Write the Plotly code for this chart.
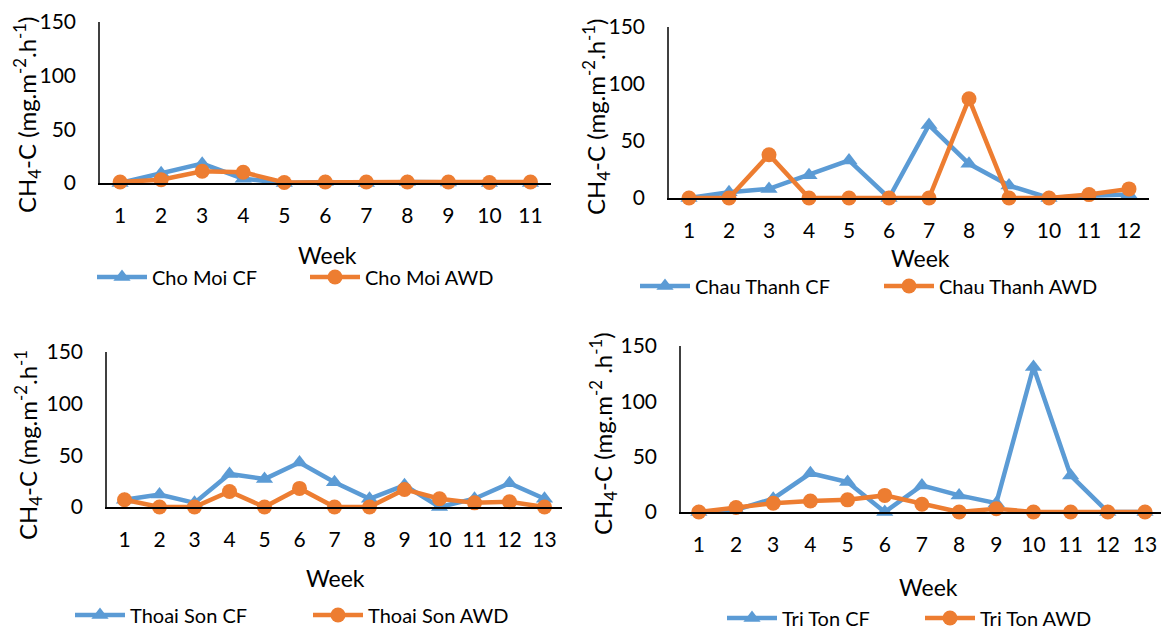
import plotly.graph_objects as go

# ---------------- data ----------------
weeks_cho = list(range(1, 12))
cho_moi_cf = [0, 9, 18, 4, 0, 1, 0, 1, 0.5, 0, 0]
cho_moi_awd = [1, 3, 11, 10, 0.5, 1, 1, 1, 1, 0.5, 1]

weeks_chau = list(range(1, 13))
chau_thanh_cf = [0, 5, 8, 20, 33, 0, 64, 30, 11, 0, 2, 3]
chau_thanh_awd = [0, 0, 38, 0, 0, 0, 0, 87, 0, 0, 3, 8]

weeks_thoai = list(range(1, 14))
thoai_son_cf = [7, 12, 4, 32, 27, 43, 24, 8, 21, 0, 8, 23, 8]
thoai_son_awd = [7, 0, 0, 15, 0, 18, 0, 0, 17, 8, 4, 5, 0]

weeks_tri = list(range(1, 14))
tri_ton_cf = [0, 2, 12, 35, 27, 0, 24, 15, 8, 131, 33, 0, 0]
tri_ton_awd = [0, 4, 8, 10, 11, 15, 7, 0, 3, 0, 0, 0, 0]

y_ticks = [0, 50, 100, 150]

BLUE = "#5B9BD5"
ORANGE = "#ED7D31"
FONT = "Lato"
W, H = 1161, 630

fig = go.Figure()

panels = [
    dict(weeks=weeks_cho, cf=cho_moi_cf, awd=cho_moi_awd, name="Cho Moi",
         px_x=(100, 551), px_y=(22, 183), xr=(0.51, 11.5),
         ytitle="CH<sub>4</sub>-C (mg.m<sup>-2</sup>.h<sup>-1</sup>)",
         ytitle_x=27, ytitle_y=115, week_xy=(327, 255),
         leg=(97, 277), entry=213),
    dict(weeks=weeks_chau, cf=chau_thanh_cf, awd=chau_thanh_awd, name="Chau Thanh",
         px_x=(669, 1149), px_y=(27, 198), xr=(0.5, 12.5),
         ytitle="CH<sub>4</sub>-C (mg.m<sup>-2</sup>.h<sup>-1</sup>)",
         ytitle_x=596, ytitle_y=117, week_xy=(920, 258),
         leg=(640, 286), entry=244),
    dict(weeks=weeks_thoai, cf=thoai_son_cf, awd=thoai_son_awd, name="Thoai Son",
         px_x=(107, 562), px_y=(352, 507), xr=(0.5, 13.5),
         ytitle="CH<sub>4</sub>-C (mg.m<sup>-2</sup>.h<sup>-1</sup>",
         ytitle_x=28, ytitle_y=445, week_xy=(335, 578),
         leg=(75, 615), entry=238),
    dict(weeks=weeks_tri, cf=tri_ton_cf, awd=tri_ton_awd, name="Tri Ton",
         px_x=(681, 1161), px_y=(346, 512), xr=(0.52, 13.43),
         ytitle="CH<sub>4</sub>-C (mg.m<sup>-2</sup> .h<sup>-1</sup>)",
         ytitle_x=603, ytitle_y=434, week_xy=(928, 587),
         leg=(727, 618), entry=198),
]

annotations = []
layout_extra = {}
for i, p in enumerate(panels, start=1):
    xa = "x" if i == 1 else f"x{i}"
    ya = "y" if i == 1 else f"y{i}"
    lg = "legend" if i == 1 else f"legend{i}"
    for label, vals, color, sym in [("CF", p["cf"], BLUE, "triangle-up"),
                                    ("AWD", p["awd"], ORANGE, "circle")]:
        fig.add_trace(go.Scatter(
            x=p["weeks"], y=vals, mode="lines+markers",
            name=f"{p['name']} {label}",
            line=dict(color=color, width=4.5),
            marker=dict(color=color, symbol=sym, size=15),
            xaxis=xa, yaxis=ya, legend=lg, cliponaxis=False,
        ))
    x0, x1 = p["px_x"]
    ytop, ybot = p["px_y"]
    layout_extra[("xaxis" if i == 1 else f"xaxis{i}")] = dict(
        domain=[x0 / W, min(x1 / W, 1.0)], anchor=ya, range=list(p["xr"]),
        tickmode="array", tickvals=p["weeks"], ticktext=[str(w) for w in p["weeks"]],
        showline=True, linecolor="black", linewidth=2, showgrid=False, zeroline=False,
        ticks="", ticklabelstandoff=13,
        tickfont=dict(family=FONT, size=21, color="black"),
    )
    layout_extra[("yaxis" if i == 1 else f"yaxis{i}")] = dict(
        domain=[1 - ybot / H, 1 - ytop / H], anchor=xa, range=[0, 150],
        tickmode="array", tickvals=y_ticks,
        showline=True, linecolor="#404040", linewidth=1.5, showgrid=False, zeroline=False,
        ticks="", ticklabelstandoff=18,
        tickfont=dict(family=FONT, size=21, color="black"),
    )
    annotations.append(dict(
        text=p["ytitle"], textangle=-90, xref="paper", yref="paper",
        x=p["ytitle_x"] / W, y=1 - p["ytitle_y"] / H, showarrow=False,
        xanchor="center", yanchor="middle",
        font=dict(family=FONT, size=24, color="black"),
    ))
    annotations.append(dict(
        text="Week", xref="paper", yref="paper",
        x=p["week_xy"][0] / W, y=1 - p["week_xy"][1] / H, showarrow=False,
        xanchor="center", yanchor="middle",
        font=dict(family=FONT, size=23, color="black"),
    ))
    layout_extra[lg] = dict(
        orientation="h", x=(p["leg"][0] - 5) / W, y=1 - p["leg"][1] / H,
        xanchor="left", yanchor="middle", bgcolor="rgba(0,0,0,0)",
        font=dict(family=FONT, size=20, color="black"),
        entrywidth=p["entry"] - 65, entrywidthmode="pixels", itemwidth=50,
        tracegroupgap=0,
    )

fig.update_layout(
    width=W, height=H, margin=dict(l=0, r=0, t=0, b=0, autoexpand=False),
    paper_bgcolor="white", plot_bgcolor="white",
    showlegend=True, annotations=annotations,
    **layout_extra,
)

fig.write_html(
    "out.html",
    config={"displayModeBar": False},
    post_script="document.body.style.margin='0';document.body.style.overflow='hidden';",
)
